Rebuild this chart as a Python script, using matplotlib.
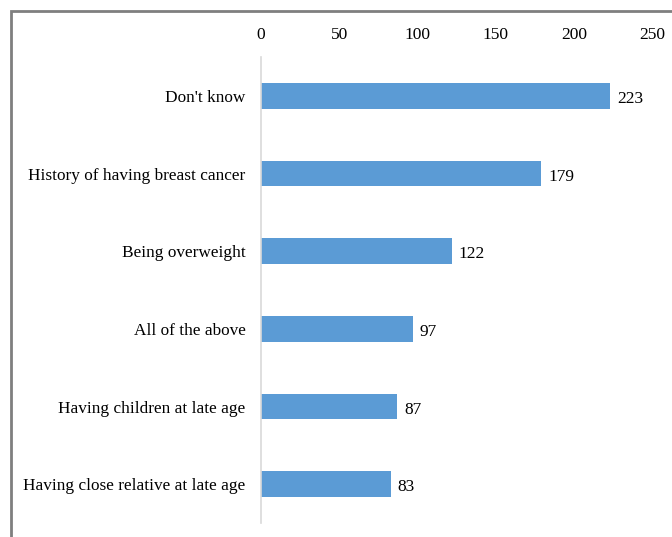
import matplotlib.pyplot as plt
from matplotlib.patches import Rectangle

# Chart data
categories = ["Don't know", "History of having breast cancer", "Being overweight",
              "All of the above", "Having children at late age",
              "Having close relative at late age"]
counts = [223, 179, 122, 97, 87, 83]
x_ticks = [0, 50, 100, 150, 200, 250]

plt.rcParams['font.family'] = ['Liberation Serif', 'DejaVu Serif']

fig = plt.figure(figsize=(6.72, 5.37), dpi=100)
ax = fig.add_axes([261 / 672, 1 - 523 / 537, 391 / 672, 466 / 537])

y_pos = list(range(len(categories)))
bars = ax.barh(y_pos, counts, height=0.33, color='#5B9BD5')
for b, v in zip(bars, counts):
    ax.text(b.get_width() + 4.5, b.get_y() + b.get_height() / 2 + 0.04, str(v),
            va='center', ha='left', fontsize=12.5)

ax.set_ylim(len(categories) - 0.5, -0.5)
ax.set_xlim(0, 250)
ax.set_yticks(y_pos)
ax.set_yticklabels(categories, fontsize=12.4)
ax.set_xticks(x_ticks)
ax.xaxis.tick_top()
ax.tick_params(axis='x', length=0, pad=10, labelsize=12.5)
ax.tick_params(axis='y', length=0, pad=11)

for s in ['top', 'right', 'bottom']:
    ax.spines[s].set_visible(False)
ax.spines['left'].set_color('#D9D9D9')
ax.spines['left'].set_linewidth(1.2)

# outer frame (left and top edges visible)
fig.patches.append(Rectangle((11 / 672, -0.05), 1.1, 1 - 11 / 537 + 0.05,
                             transform=fig.transFigure, fill=False,
                             edgecolor='#7F7F7F', linewidth=2))

fig.savefig('out.png', dpi=100)
